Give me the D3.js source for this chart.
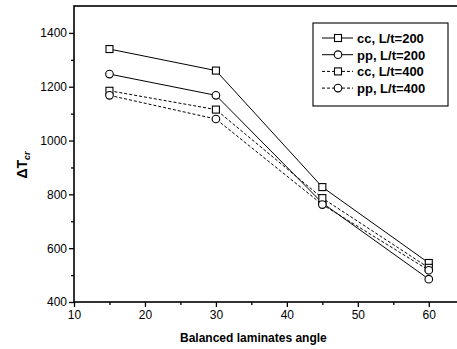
<!DOCTYPE html>
<html>
<head>
<meta charset="utf-8">
<script src="https://cdn.jsdelivr.net/npm/d3@7"></script>
<style>
  body { margin: 0; background: #fff; }
  svg { display: block; font-family: Arial, "Liberation Sans", sans-serif; }
</style>
</head>
<body>
<svg id="chart" width="457" height="349"></svg>
<script>
// angles (deg)
const angles = [15, 30, 45, 60];
// critical temperature values
const cc200 = [1340, 1260, 827, 545];
const pp200 = [1247, 1168, 768, 485];
const cc400 = [1185, 1115, 786, 527];
const pp400 = [1168, 1080, 762, 518];

const seriesNames = ["cc, L/t=200", "pp, L/t=200", "cc, L/t=400", "pp, L/t=400"];
const seriesVals = [cc200, pp200, cc400, pp400];
const seriesMarker = ["square", "circle", "square", "circle"];
const seriesDash = [null, null, "3,2", "3,2"];

const xTicks = [10, 20, 30, 40, 50, 60];
const xMinor = [15, 25, 35, 45, 55];
const yTicks = [400, 600, 800, 1000, 1200, 1400];
const yMinor = [500, 700, 900, 1100, 1300];

const svg = d3.select("#chart");
const plotL = 74, plotR = 460, plotT = 6, plotB = 302;

const x = d3.scaleLinear().domain([10, 64.4]).range([plotL, plotR]);
const y = d3.scaleLinear().domain([400, 1500]).range([plotB, plotT]);

// frame
svg.append("rect")
    .attr("x", plotL).attr("y", plotT)
    .attr("width", plotR - plotL).attr("height", plotB - plotT)
    .attr("fill", "none").attr("stroke", "#000").attr("stroke-width", 1.6);

// x axis
const xAxis = svg.append("g").attr("transform", `translate(0,${plotB})`);
xAxis.call(d3.axisBottom(x).tickValues(xTicks).tickSize(5).tickPadding(3).tickFormat(d3.format("d")));
xAxis.append("g").call(d3.axisBottom(x).tickValues(xMinor).tickSize(3).tickFormat(""));
xAxis.selectAll(".domain").remove();
xAxis.selectAll("line").attr("stroke-width", 1.3);
xAxis.selectAll("text").attr("font-size", 12).attr("fill", "#000")
    .attr("font-family", "Arial, 'Liberation Sans', sans-serif");

// y axis
const yAxis = svg.append("g").attr("transform", `translate(${plotL},0)`);
yAxis.call(d3.axisLeft(y).tickValues(yTicks).tickSize(5).tickPadding(2).tickFormat(d3.format("d")));
yAxis.append("g").call(d3.axisLeft(y).tickValues(yMinor).tickSize(3).tickFormat(""));
yAxis.selectAll(".domain").remove();
yAxis.selectAll("line").attr("stroke-width", 1.3);
yAxis.selectAll("text").attr("font-size", 12).attr("fill", "#000")
    .attr("font-family", "Arial, 'Liberation Sans', sans-serif");

// axis titles
svg.append("text")
    .attr("x", (x(10) + x(60)) / 2 + 2).attr("y", 342)
    .attr("text-anchor", "middle")
    .attr("font-size", 12).attr("font-weight", "bold")
    .text("Balanced laminates angle");

const yt = svg.append("text")
    .attr("transform", `translate(27,165) rotate(-90)`)
    .attr("text-anchor", "middle")
    .attr("font-size", 14).attr("font-weight", "bold");
yt.append("tspan").text("ΔT");
yt.append("tspan").attr("font-size", 9).attr("font-style", "italic").attr("dy", 3).text("cr");

// series
const line = d3.line().x((d, i) => x(angles[i])).y(d => y(d));

function drawMarker(g, type, cx, cy) {
    if (type === "square") {
        g.append("rect").attr("x", cx - 3.5).attr("y", cy - 3.5)
            .attr("width", 7).attr("height", 7)
            .attr("fill", "#fff").attr("stroke", "#000").attr("stroke-width", 1.1);
    } else {
        g.append("circle").attr("cx", cx).attr("cy", cy).attr("r", 3.8)
            .attr("fill", "#fff").attr("stroke", "#000").attr("stroke-width", 1.1);
    }
}

seriesVals.forEach((vals, k) => {
    const g = svg.append("g");
    g.append("path").datum(vals)
        .attr("d", line)
        .attr("fill", "none").attr("stroke", "#000")
        .attr("stroke-width", 1)
        .attr("stroke-dasharray", seriesDash[k]);
    vals.forEach((v, i) => drawMarker(g, seriesMarker[k], x(angles[i]), y(v)));
});

// legend
const lg = svg.append("g");
lg.append("rect").attr("x", 313).attr("y", 23).attr("width", 135).attr("height", 83)
    .attr("fill", "#fff").attr("stroke", "#000").attr("stroke-width", 1.1);
seriesNames.forEach((name, k) => {
    const ly = 38 + k * 16.7;
    lg.append("line").attr("x1", 322).attr("x2", 353).attr("y1", ly).attr("y2", ly)
        .attr("stroke", "#000").attr("stroke-width", 1)
        .attr("stroke-dasharray", seriesDash[k]);
    drawMarker(lg, seriesMarker[k], 338, ly);
    lg.append("text").attr("x", 357).attr("y", ly + 4.8)
        .attr("font-size", 13).attr("font-weight", "bold")
        .text(name);
});
</script>
</body>
</html>
